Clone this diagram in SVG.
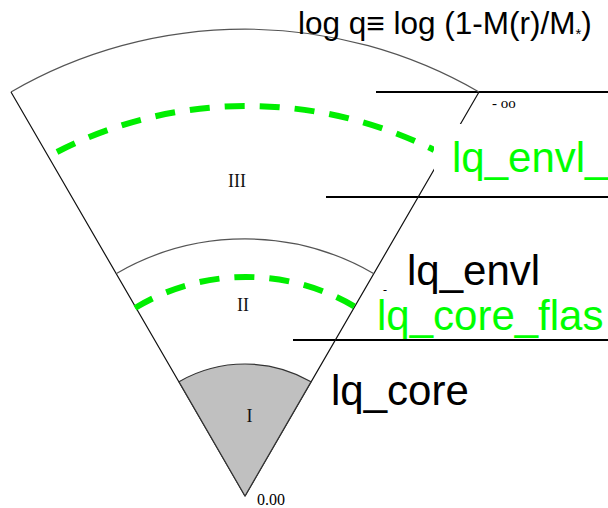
<svg xmlns="http://www.w3.org/2000/svg" width="608" height="508" viewBox="0 0 608 508">
<style>
.sans{font-family:"Liberation Sans",Arial,sans-serif}
.serif{font-family:"Liberation Serif","Times New Roman",serif}
.arc{fill:none;stroke:#555;stroke-width:1.2}
.edge{fill:none;stroke:#111;stroke-width:1.2}
.hline{stroke:#000;stroke-width:2}
.dash{fill:none;stroke:#00ee00;stroke-width:6;stroke-dasharray:20 15}
.lbl{font-size:42px}
.green{fill:#00ff00}
.roman{font-size:18px;fill:#111}
</style>
<rect width="608" height="508" fill="#fff"/>
<g id="connectors">
<line class="hline" x1="376" y1="92" x2="608" y2="92"/>
<line class="hline" x1="326" y1="197" x2="608" y2="197"/>
<line class="hline" x1="293" y1="340" x2="608" y2="340"/>
</g>
<g id="region-III">
<path class="arc" d="M11,92 A467,467 0 0,1 479,92"/>
<path class="edge" d="M11,92 L245,496 M479,92 L245,496"/>
<text class="serif roman" x="228" y="187">III</text>
</g>
<g id="region-II">
<path class="arc" d="M116.5,273.4 A257,257 0 0,1 373.5,273.4"/>
<text class="serif roman" x="237" y="311">II</text>
</g>
<g id="region-I">
<path d="M245,496 L179,381.7 A132,132 0 0,1 311,381.7 Z" fill="#c0c0c0" stroke="#333" stroke-width="1.2"/>
<text class="serif roman" x="249.5" y="422" text-anchor="middle">I</text>
</g>
<g id="envl-flash-boundary">
<path class="dash" d="M57,152 A417,417 0 0,1 434,150"/>
<rect x="434" y="124" width="174" height="48" fill="#fff"/>
<text class="sans lbl green" x="452" y="172">lq_envl_</text>
</g>
<g id="core-flash-boundary">
<path class="dash" d="M135,308 A214,214 0 0,1 357,308"/>
<text class="sans lbl green" x="377" y="330">lq_core_flas</text>
</g>
<g id="labels">
<text class="sans" x="298" y="34" font-size="31.5">log q≡ log (1-M(r)/M<tspan font-size="15" dy="5">*</tspan><tspan dy="-5">)</tspan></text>
<text class="sans lbl" x="407" y="285">lq_envl</text>
<text class="sans lbl" x="331" y="405">lq_core</text>
<text class="serif" x="492" y="108" font-size="15">- oo</text>
<text class="serif" x="383" y="294" font-size="12">-</text>
<text class="serif" x="257" y="505" font-size="16">0.00</text>
</g>
</svg>
